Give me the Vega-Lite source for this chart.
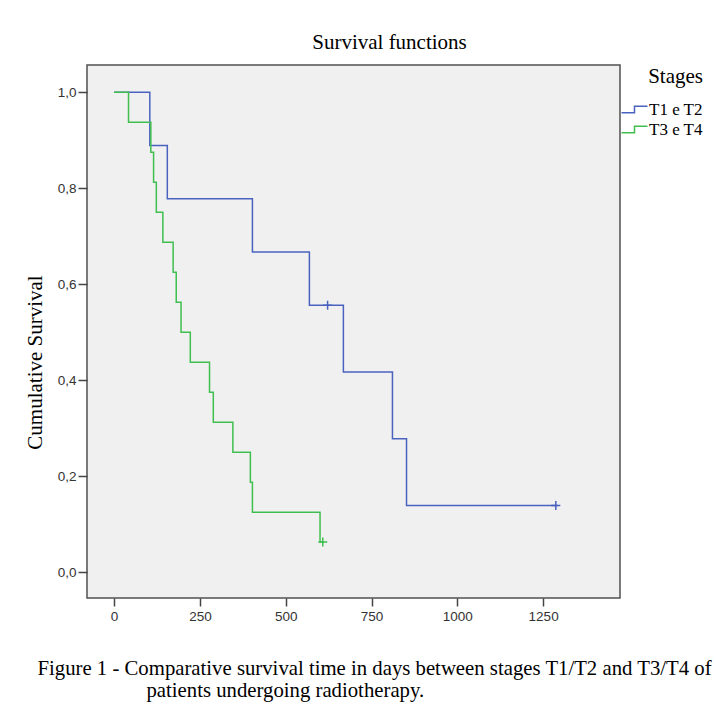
{
  "$schema": "https://vega.github.io/schema/vega-lite/v6.json",
  "width": 533,
  "height": 533,
  "autosize": {"type": "none"},
  "padding": {"left": 87, "top": 65, "right": 96, "bottom": 124},
  "background": "white",
  "config": {
    "view": {"stroke": "#505050", "strokeWidth": 1.5, "fill": "#F0F0F0"},
    "axis": {"grid": false, "domain": false, "tickColor": "#444444", "tickWidth": 1.5, "labelFont": "Liberation Sans", "labelFontSize": 13.5, "labelColor": "#333333", "titleFont": "Liberation Serif", "titleFontWeight": "normal", "titleColor": "#000000", "titleFontSize": 21}
  },
  "title": {
    "text": "Survival functions",
    "font": "Liberation Serif",
    "fontSize": 21,
    "fontWeight": "normal",
    "color": "#000000",
    "anchor": "middle",
    "baseline": "alphabetic",
    "dx": 36,
    "dy": 22,
    "offset": 17
  },
  "datasets": {
    "km": [
      {"stage": "T1 e T2", "day": 0, "surv": 1.0},
      {"stage": "T1 e T2", "day": 104, "surv": 0.889},
      {"stage": "T1 e T2", "day": 155, "surv": 0.778},
      {"stage": "T1 e T2", "day": 403, "surv": 0.667},
      {"stage": "T1 e T2", "day": 569, "surv": 0.556},
      {"stage": "T1 e T2", "day": 668, "surv": 0.417},
      {"stage": "T1 e T2", "day": 811, "surv": 0.278},
      {"stage": "T1 e T2", "day": 852, "surv": 0.139},
      {"stage": "T1 e T2", "day": 1292, "surv": 0.139},
      {"stage": "T3 e T4", "day": 0, "surv": 1.0},
      {"stage": "T3 e T4", "day": 42, "surv": 0.9375},
      {"stage": "T3 e T4", "day": 107, "surv": 0.875},
      {"stage": "T3 e T4", "day": 115, "surv": 0.8125},
      {"stage": "T3 e T4", "day": 123, "surv": 0.75},
      {"stage": "T3 e T4", "day": 142, "surv": 0.6875},
      {"stage": "T3 e T4", "day": 172, "surv": 0.625},
      {"stage": "T3 e T4", "day": 181, "surv": 0.5625},
      {"stage": "T3 e T4", "day": 195, "surv": 0.5},
      {"stage": "T3 e T4", "day": 222, "surv": 0.4375},
      {"stage": "T3 e T4", "day": 278, "surv": 0.375},
      {"stage": "T3 e T4", "day": 289, "surv": 0.3125},
      {"stage": "T3 e T4", "day": 346, "surv": 0.25},
      {"stage": "T3 e T4", "day": 397, "surv": 0.1875},
      {"stage": "T3 e T4", "day": 403, "surv": 0.125},
      {"stage": "T3 e T4", "day": 600, "surv": 0.0625},
      {"stage": "T3 e T4", "day": 611, "surv": 0.0625}
    ],
    "cens": [
      {"stage": "T1 e T2", "day": 622, "surv": 0.556},
      {"stage": "T1 e T2", "day": 1287, "surv": 0.139},
      {"stage": "T3 e T4", "day": 608, "surv": 0.0625}
    ]
  },
  "encoding": {
    "x": {
      "field": "day",
      "type": "quantitative",
      "scale": {"domain": [-79, 1474], "nice": false, "zero": false},
      "axis": {
        "values": [0, 250, 500, 750, 1000, 1250],
        "format": "d",
        "tickSize": 8,
        "labelPadding": 3,
        "title": ["Figure 1 - Comparative survival time in days between stages T1/T2 and T3/T4 of", "\u200b\u00a0\u00a0\u00a0\u00a0\u00a0\u00a0\u00a0\u00a0\u00a0\u00a0\u00a0\u00a0\u00a0\u00a0\u00a0\u00a0\u00a0\u00a0\u00a0\u00a0\u00a0patients undergoing radiotherapy."],
        "titleFontSize": 20.75,
        "titleAnchor": "start",
        "titleAlign": "left",
        "titleBaseline": "alphabetic",
        "titleX": -50,
        "titleY": 76,
        "titleLineHeight": 22
      }
    },
    "y": {
      "field": "surv",
      "type": "quantitative",
      "scale": {"domain": [-0.054, 1.057], "nice": false, "zero": false},
      "axis": {
        "values": [0, 0.2, 0.4, 0.6, 0.8, 1.0],
        "labelExpr": "replace(format(datum.value, '.1f'), '.', ',')",
        "tickSize": 9,
        "labelPadding": 2,
        "title": "Cumulative Survival",
        "titleY": 297,
        "titlePadding": 12
      }
    },
    "color": {
      "field": "stage",
      "type": "nominal",
      "scale": {"domain": ["T1 e T2", "T3 e T4"], "range": ["#4a62bf", "#40bf50"]},
      "legend": {
        "title": "Stages",
        "orient": "none",
        "legendX": 533,
        "legendY": 1,
        "titleFont": "Liberation Serif",
        "titleFontSize": 21,
        "titleFontWeight": "normal",
        "titleColor": "#000000",
        "titleAnchor": "end",
        "titlePadding": 14,
        "labelFont": "Liberation Serif",
        "labelFontSize": 17,
        "labelColor": "#000000",
        "symbolType": "M-4.33,1.1H0V-1.1H4.33",
        "symbolSize": 36,
        "symbolStrokeWidth": 1.5,
        "symbolFillColor": "transparent",
        "symbolOffset": 6,
        "labelOffset": 6,
        "rowPadding": 2,
        "padding": 0
      }
    }
  },
  "layer": [
    {
      "data": {"name": "km"},
      "mark": {"type": "line", "interpolate": "step-after", "strokeWidth": 1.5}
    },
    {
      "data": {"name": "cens"},
      "mark": {"type": "point", "shape": "M-1,0H1M0,-1V1", "size": 81, "strokeWidth": 1.5, "filled": false, "opacity": 1}
    }
  ]
}
